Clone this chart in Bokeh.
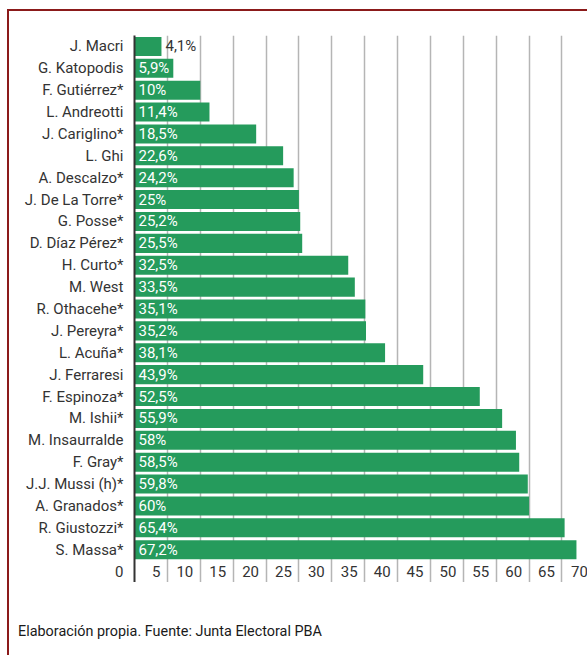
from bokeh.plotting import figure
from bokeh.layouts import column
from bokeh.models import (Range1d, FactorRange, FixedTicker, ColumnDataSource,
                          LabelSet, Div)
from bokeh.core.properties import value
from bokeh.embed import file_html
from bokeh.resources import INLINE

names = ["J. Macri", "G. Katopodis", "F. Gutiérrez*", "L. Andreotti", "J. Cariglino*",
         "L. Ghi", "A. Descalzo*", "J. De La Torre*", "G. Posse*", "D. Díaz Pérez*",
         "H. Curto*", "M. West", "R. Othacehe*", "J. Pereyra*", "L. Acuña*",
         "J. Ferraresi", "F. Espinoza*", "M. Ishii*", "M. Insaurralde", "F. Gray*",
         "J.J. Mussi (h)*", "A. Granados*", "R. Giustozzi*", "S. Massa*"]
values = [4.1, 5.9, 10, 11.4, 18.5, 22.6, 24.2, 25, 25.2, 25.5, 32.5, 33.5, 35.1,
          35.2, 38.1, 43.9, 52.5, 55.9, 58, 58.5, 59.8, 60, 65.4, 67.2]
x_ticks = [0, 5, 10, 15, 20, 25, 30, 35, 40, 45, 50, 55, 60, 65, 70]
footer_text = "Elaboración propia. Fuente: Junta Electoral PBA"

GREEN = "#259b5c"
DARK = "#333333"
FONT = "Roboto"

# the bottom row of the category axis carries the "0" tick label
tick_row = str(x_ticks[0])
factors = [tick_row] + names[::-1]


def fmt(v):
    s = ("%g" % v).replace(".", ",")
    return s + "%"


labels = [fmt(v) for v in values]
inside = [v >= 5 for v in values]
label_x = [0 if ins else v for ins, v in zip(inside, values)]
label_color = ["white" if ins else DARK for ins in inside]

bars = ColumnDataSource(dict(name=names, value=values, label=labels,
                             lx=label_x, lc=label_color))

p = figure(width=578, height=571, output_backend="svg", toolbar_location=None,
           y_range=FactorRange(factors=factors, range_padding=0),
           x_range=Range1d(0, 68.88),
           min_border_left=125, min_border_top=24, min_border_right=0,
           min_border_bottom=0)

p.outline_line_color = None
p.background_fill_color = "white"
p.border_fill_color = "white"

p.xgrid.ticker = FixedTicker(ticks=x_ticks[1:])
p.xgrid.grid_line_color = "#b5b5b5"
p.xgrid.grid_line_width = 1.5
p.ygrid.grid_line_color = None

p.xaxis.visible = False

p.yaxis.axis_line_color = DARK
p.yaxis.axis_line_width = 2
p.yaxis.major_tick_line_color = None
p.yaxis.minor_tick_line_color = None
p.yaxis.major_label_standoff = 5
p.yaxis.major_label_text_font = FONT
p.yaxis.major_label_text_font_size = "15px"
p.yaxis.major_label_text_color = DARK

p.hbar(y="name", right="value", left=0, height=0.87, source=bars,
       fill_color=GREEN, line_color=None)

p.text(x="lx", y="name", text="label", source=bars, x_offset=4,
       text_color="lc", text_font=value(FONT), text_font_size="15px",
       text_baseline="middle", text_align="left")

ticks_src = ColumnDataSource(dict(x=x_ticks[1:], y=[tick_row] * (len(x_ticks) - 1),
                                  t=[str(t) for t in x_ticks[1:]]))
p.add_layout(LabelSet(x="x", y="y", text="t", source=ticks_src, x_offset=-7,
                      text_align="right", text_baseline="middle",
                      text_font=value(FONT), text_font_size="15px",
                      text_color=DARK))

footer = Div(text=footer_text, width=560, height=32, margin=(41, 0, 0, 9),
             styles={"font-family": FONT, "font-size": "14.4px", "color": "#1a1a1a",
                     "line-height": "17px"})

layout = column(p, footer, spacing=0,
                styles={"margin-left": "7px", "margin-top": "9px",
                        "border-top": "2px solid #8B1A1A",
                        "border-left": "2px solid #8B1A1A"})

open("out.html", "w").write(file_html(layout, INLINE))
